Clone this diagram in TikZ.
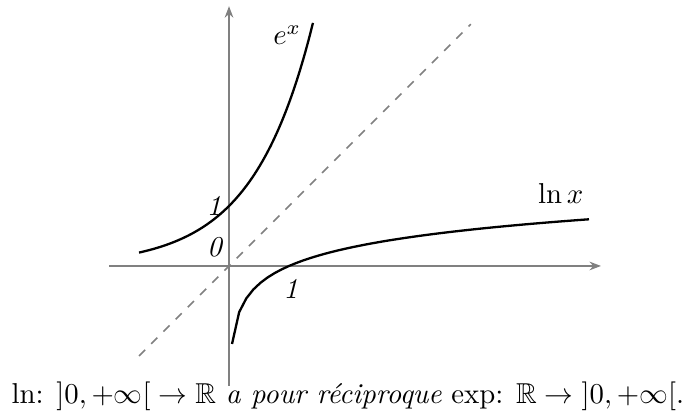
\documentclass[tikz,border=0pt]{standalone}
\usepackage{amssymb}
\usetikzlibrary{arrows.meta}
\begin{document}
\begin{tikzpicture}[x=0.733cm,y=0.733cm,
  axis/.style={draw=gray,semithick,-{Stealth[length=4pt,width=3pt]}},
  curve/.style={thick,black},
  diag/.style={draw=gray,semithick,dashed},
  lab/.style={inner sep=0pt}]
\useasboundingbox (-3.817,-2.5) rectangle (7.633,4.433);
\draw[axis] (-2,0) -- (6.2,0);
\draw[axis] (0,-2) -- (0,4.33);
\draw[diag] (-1.5,-1.5) -- (4.03,4.03);
\draw[curve] plot[domain=-1.5:1.4,samples=80,smooth] (\x,{exp(\x)});
\draw[curve] plot[domain=0.05:6,samples=51] (\x,{log10(\x)});
\node[lab] (ex) at (0.97,3.85) {$e^x$};
\node[lab] (lnx) at (5.53,1.2) {$\ln x$};
\node[lab] (one-y) at (-0.25,1.0) {\textit{1}};
\node[lab] (zero) at (-0.23,0.31) {\textit{0}};
\node[lab] (one-x) at (1.03,-0.39) {\textit{1}};
\node[anchor=base,inner sep=0pt] (caption) at (1.98,-2.3)
  {ln: $]0,+\infty[\;\to\mathbb{R}$ \emph{a pour réciproque} exp: $\mathbb{R}\to\;]0,+\infty[$.};
\end{tikzpicture}
\end{document}
